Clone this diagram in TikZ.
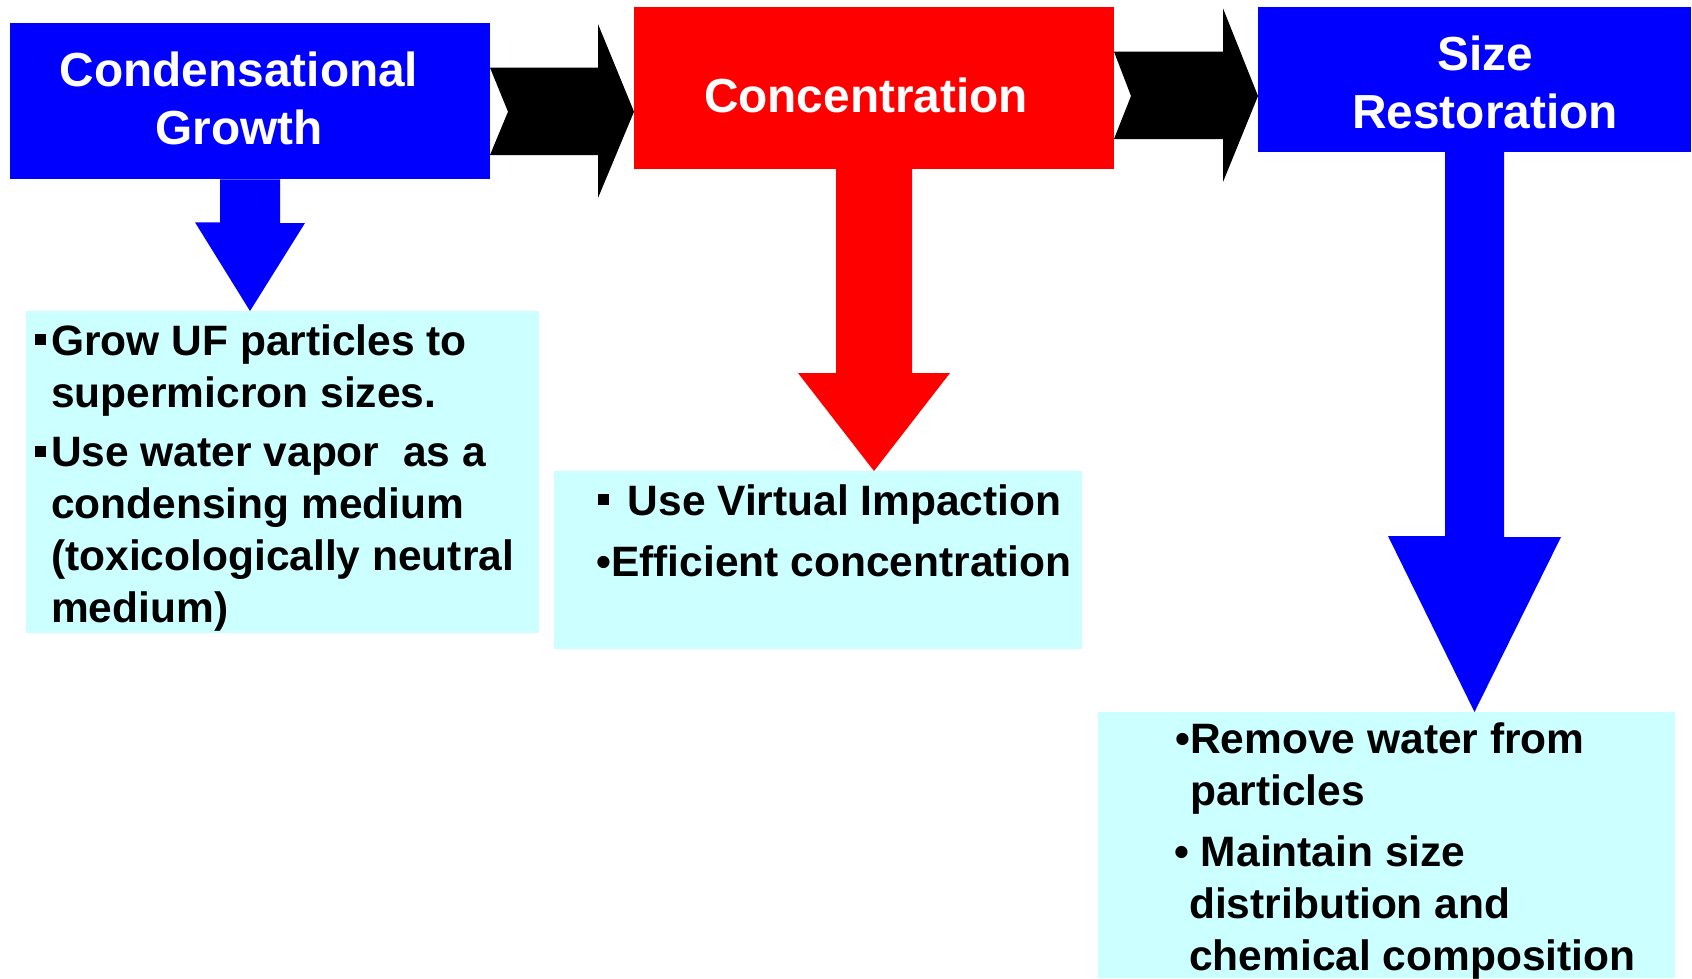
\documentclass[tikz,border=0pt]{standalone}
\usepackage{fontspec}
\setmainfont{Liberation Sans}
\usetikzlibrary{calc}
\definecolor{pblue}{RGB}{0,0,255}
\definecolor{pred}{RGB}{255,0,0}
\definecolor{pcyan}{RGB}{204,255,255}
\newcommand{\sqbul}[1]{\llap{\rule[10pt]{11.5pt}{11pt}\hspace{#1}}}
\begin{document}
\begin{tikzpicture}[x=1pt,y=-1pt,
  stage/.style={rectangle, draw=none, inner sep=0pt, outer sep=0pt},
  detail/.style={rectangle, fill=pcyan, draw=none, inner sep=0pt, outer sep=0pt},
  title/.style={font=\fontsize{47.8}{58}\selectfont\bfseries, text=white, align=center, inner sep=0pt, anchor=base},
  body/.style={font=\fontsize{42.5}{51.7}\selectfont\bfseries, text=black, align=left, inner sep=0pt, anchor=base west}]
\useasboundingbox (0,0) rectangle (1692,978);
\fill[white] (0,0) rectangle (1692,978);

% stage boxes
\node[stage, fill=pblue, minimum width=480, minimum height=156] (cg) at (250,101.3) {};
\node[stage, fill=pred, minimum width=480, minimum height=161.7] (conc) at (874,88.15) {};
\node[stage, fill=pblue, minimum width=433, minimum height=144.5] (sr) at (1474.5,79.25) {};

% detail boxes
\node[detail, minimum width=513, minimum height=322] (d1) at (282.5,472) {};
\node[detail, minimum width=528, minimum height=178] (d2) at (818,560) {};
\node[detail, minimum width=577, minimum height=266] (d3) at (1386.5,845) {};

% down arrows
\fill[pblue] ([xshift=-30pt]cg.south) -- ++(0,43) -- ++(-25,0) -- (d1.north -| cg.south) -- ++(55,-88) -- ++(-25,0) -- ([xshift=30pt]cg.south) -- cycle;
\fill[pred] ([xshift=-38pt]conc.south) -- ++(0,204) -- ++(-38,0) -- (d2.north -| conc.south) -- ++(76,-98) -- ++(-38,0) -- ([xshift=38pt]conc.south) -- cycle;
\fill[pblue] ([xshift=-29.5pt]sr.south) -- ++(0,384.5) -- ++(-57,0) -- (d3.north -| sr.south) -- ++(86.5,-175) -- ++(-57,0) -- ([xshift=29.5pt]sr.south) -- cycle;

% black block arrows
\fill[black] (cg.east |- 0,67.7) -- ++(108,0) -- ++(0,-43.7) -- (conc.west |- 0,111.7) -- ++(-36,86.3) -- ++(0,-43) -- (cg.east |- 0,155) -- ++(18,-43.3) -- cycle;
\fill[black] (conc.east |- 0,51.7) -- ++(109,0) -- ++(0,-43.4) -- (sr.west |- 0,96) -- ++(-35,86) -- ++(0,-43) -- (conc.east |- 0,139) -- ++(17,-43) -- cycle;

% titles (base anchor = last line)
\node[title] (cgt) at (239,144) {Condensational\\Growth};
\node[title] (conct) at (866,112) {Concentration};
\node[title] (srt) at (1485,128.6) {Size\\Restoration};

% body texts (base anchor = last line)
\node[body] (b1a) at (51,407) {\sqbul{5pt}Grow UF particles to\\supermicron sizes.};
\node[body] (b1b) at (51,622) {\sqbul{5pt}Use water vapor\ \ as a\\condensing medium\\(toxicologically neutral\\medium)};
\node[body] (b2a) at (627.5,515) {\sqbul{18.5pt}Use Virtual Impaction};
\node[body] (b2b) at (611,576.7) {\llap{•}Efficient concentration};
\node[body] (b3a) at (1190,805) {\llap{•}Remove water from\\particles};
\node[body] (b3b) at (1189,970) {\llap{•}\ Maintain size\\distribution and\\chemical composition};
\end{tikzpicture}
\end{document}
